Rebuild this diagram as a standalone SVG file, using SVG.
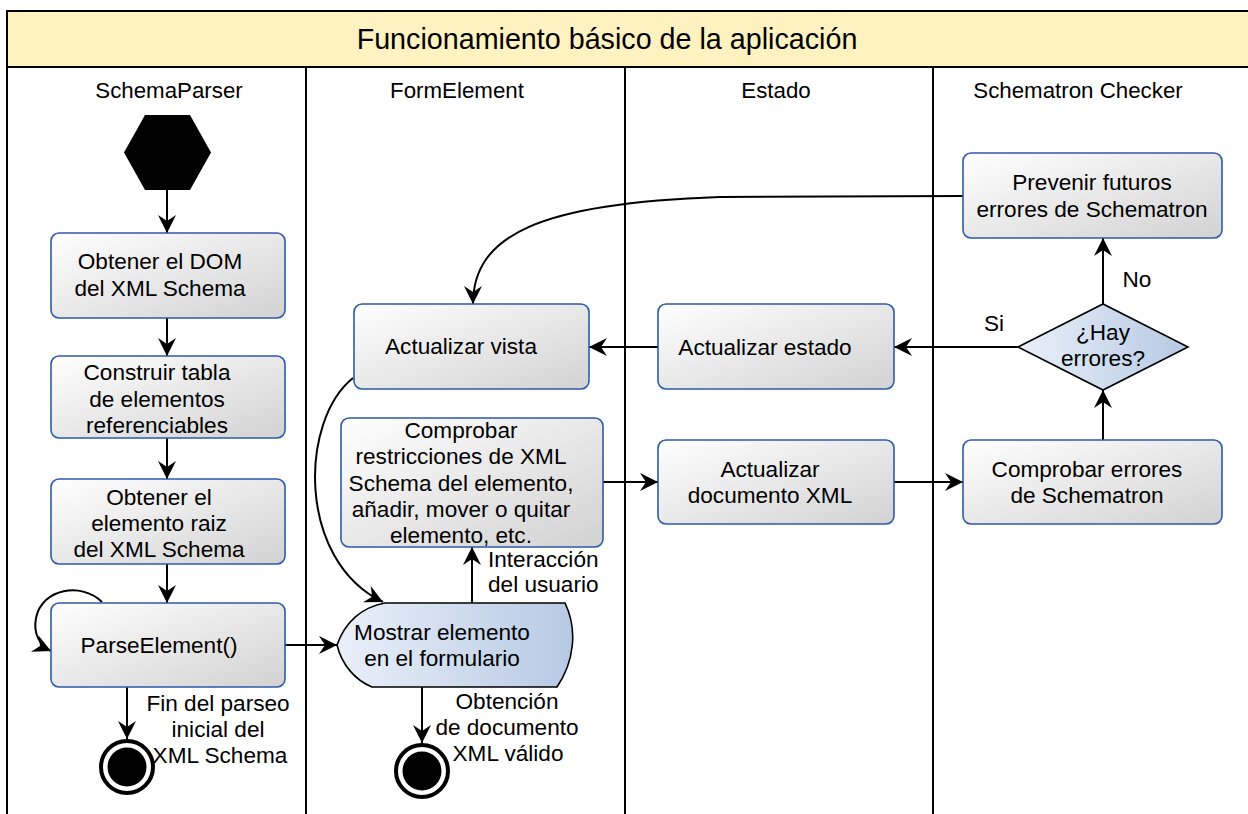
<svg xmlns="http://www.w3.org/2000/svg" width="1248" height="814" viewBox="0 0 1248 814">
<style>
text{font-family:"Liberation Sans",Arial,Helvetica,sans-serif;fill:#000}
.t{font-size:22.6px;text-anchor:middle}
.h{font-size:22.3px;text-anchor:middle}
.l{font-size:22.6px}
.box{fill:url(#gGray);stroke:#2d5bab;stroke-width:1.6}
.blue{fill:url(#gBlue);stroke:#000;stroke-width:1.6}
.edge{fill:none;stroke:#000;stroke-width:2}
.lane{fill:none;stroke:#000;stroke-width:2}
</style>
<defs>
<linearGradient id="gGray" x1="0" y1="0" x2="1" y2="1">
<stop offset="0" stop-color="#ffffff"/><stop offset="1" stop-color="#d2d2d2"/>
</linearGradient>
<linearGradient id="gBlue" x1="0" y1="0" x2="1" y2="0">
<stop offset="0" stop-color="#eaf0f9"/><stop offset="1" stop-color="#b6c9e3"/>
</linearGradient>
<marker id="arr" markerUnits="userSpaceOnUse" markerWidth="20" markerHeight="18" refX="18" refY="9" orient="auto" viewBox="0 0 20 18">
<path d="M0,0 L18,9 L0,18 L6,9 Z" fill="#000"/>
</marker>
</defs>

<g id="frame">
<rect x="7" y="11" width="1260" height="56" fill="#fff2c1" stroke="none"/>
<path class="lane" d="M7,814 L7,11 L1260,11 M7,67 L1260,67 M306,67 L306,814 M625,67 L625,814 M933,67 L933,814"/>
<text x="607" y="48.5" style="font-size:28.7px;text-anchor:middle">Funcionamiento básico de la aplicación</text>
<text class="h" x="169" y="98">SchemaParser</text>
<text class="h" x="457" y="98">FormElement</text>
<text class="h" x="776" y="98">Estado</text>
<text class="h" x="1078" y="98">Schematron Checker</text>
</g>

<g id="edges">
<path class="edge" d="M167,190 L167,233" marker-end="url(#arr)"/>
<path class="edge" d="M167,318 L167,356" marker-end="url(#arr)"/>
<path class="edge" d="M167,438 L167,479" marker-end="url(#arr)"/>
<path class="edge" d="M167,564 L167,603" marker-end="url(#arr)"/>
<path class="edge" d="M102,602 C82,582 42,588 36,618 C33,634 40,646 51,651" marker-end="url(#arr)"/>
<path class="edge" d="M127,687 L127,739" marker-end="url(#arr)"/>
<path class="edge" d="M285,645 L337,645" marker-end="url(#arr)"/>
<path class="edge" d="M422,687 L422,743" marker-end="url(#arr)"/>
<path class="edge" d="M472,603 L472,547" marker-end="url(#arr)"/>
<path class="edge" d="M353,378 C300,420 296,560 383,602" marker-end="url(#arr)"/>
<path class="edge" d="M603,482 L658,482" marker-end="url(#arr)"/>
<path class="edge" d="M894,482 L963,482" marker-end="url(#arr)"/>
<path class="edge" d="M1103,440 L1103,390" marker-end="url(#arr)"/>
<path class="edge" d="M1103,304 L1103,238" marker-end="url(#arr)"/>
<path class="edge" d="M1018,347 L894,347" marker-end="url(#arr)"/>
<path class="edge" d="M658,347 L589,347" marker-end="url(#arr)"/>
<path class="edge" d="M963,196 L720,197 C540,203 473,235 473,304" marker-end="url(#arr)"/>
<text class="l" x="488" y="567">Interacción</text>
<text class="l" x="488" y="592">del usuario</text>
<text class="t" x="218" y="711">Fin del parseo</text>
<text class="t" x="218" y="737">inicial del</text>
<text class="t" x="220" y="763">XML Schema</text>
<text class="t" x="507" y="709">Obtención</text>
<text class="t" x="507" y="735">de documento</text>
<text class="t" x="508" y="761">XML válido</text>
<text class="t" x="994" y="331">Si</text>
<text class="t" x="1137" y="287">No</text>
</g>

<g id="start">
<polygon points="145,115 190,115 211,152.5 190,190 145,190 124,152.5" fill="#000"/>
</g>

<g id="n1">
<rect class="box" x="51" y="233" width="234" height="85" rx="8"/>
<text class="t" x="160" y="269">Obtener el DOM</text>
<text class="t" x="160" y="296">del XML Schema</text>
</g>
<g id="n2">
<rect class="box" x="51" y="356" width="234" height="82" rx="8"/>
<text class="t" x="157" y="380">Construir tabla</text>
<text class="t" x="157" y="407">de elementos</text>
<text class="t" x="157" y="433">referenciables</text>
</g>
<g id="n3">
<rect class="box" x="51" y="479" width="234" height="85" rx="8"/>
<text class="t" x="159" y="505">Obtener el</text>
<text class="t" x="159" y="531">elemento raiz</text>
<text class="t" x="159" y="557">del XML Schema</text>
</g>
<g id="n4">
<rect class="box" x="51" y="603" width="234" height="84" rx="8"/>
<text class="t" x="159" y="653">ParseElement()</text>
</g>
<g id="end1">
<circle cx="127" cy="767" r="26" fill="#fff" stroke="#000" stroke-width="4"/>
<circle cx="127" cy="767" r="19.5" fill="#000"/>
</g>

<g id="n5">
<path class="blue" d="M337,645 C345,622 362,607 385,603 L565,603 C578,630 574,662 557,687 L372,687 C355,680 342,665 337,645 Z"/>
<text class="t" x="442" y="640">Mostrar elemento</text>
<text class="t" x="442" y="666">en el formulario</text>
</g>
<g id="end2">
<circle cx="422" cy="771" r="26" fill="#fff" stroke="#000" stroke-width="4"/>
<circle cx="422" cy="771" r="19.5" fill="#000"/>
</g>
<g id="n6">
<rect class="box" x="354" y="304" width="235" height="85" rx="8"/>
<text class="t" x="461" y="354">Actualizar vista</text>
</g>
<g id="n7">
<rect class="box" x="341" y="418" width="262" height="129" rx="8"/>
<text class="t" x="461" y="438">Comprobar</text>
<text class="t" x="461" y="464">restricciones de XML</text>
<text class="t" x="461" y="491">Schema del elemento,</text>
<text class="t" x="461" y="517">añadir, mover o quitar</text>
<text class="t" x="461" y="543">elemento, etc.</text>
</g>

<g id="n8">
<rect class="box" x="658" y="304" width="236" height="85" rx="8"/>
<text class="t" x="765" y="355">Actualizar estado</text>
</g>
<g id="n9">
<rect class="box" x="658" y="440" width="236" height="84" rx="8"/>
<text class="t" x="770" y="477">Actualizar</text>
<text class="t" x="770" y="503">documento XML</text>
</g>

<g id="n10">
<rect class="box" x="963" y="153" width="259" height="85" rx="8"/>
<text class="t" x="1092" y="190">Prevenir futuros</text>
<text class="t" x="1092" y="217">errores de Schematron</text>
</g>
<g id="n11">
<polygon class="blue" points="1018,347 1103,304 1188,347 1103,390"/>
<text class="t" x="1103" y="340">¿Hay</text>
<text class="t" x="1103" y="366">errores?</text>
</g>
<g id="n12">
<rect class="box" x="963" y="440" width="259" height="84" rx="8"/>
<text class="t" x="1087" y="477">Comprobar errores</text>
<text class="t" x="1087" y="503">de Schematron</text>
</g>
</svg>
